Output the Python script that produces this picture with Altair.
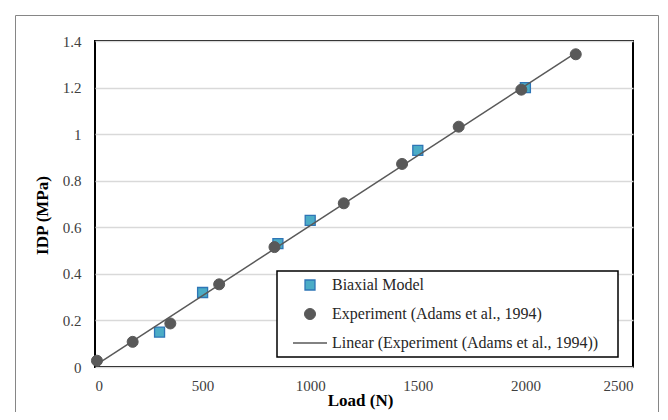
import altair as alt
import pandas as pd

S1 = "Biaxial Model"
S2 = "Experiment (Adams et al., 1994)"
S3 = "Linear (Experiment (Adams et al., 1994))"

model_load = [300, 500, 850, 1000, 1500, 2000]
model_idp = [0.15, 0.32, 0.53, 0.63, 0.93, 1.20]

exp_load = [9, 175, 350, 577, 834, 1156, 1427, 1690, 1981, 2234]
exp_idp = [0.027, 0.108, 0.187, 0.355, 0.515, 0.703, 0.872, 1.032, 1.191, 1.343]

x_ticks = [0, 500, 1000, 1500, 2000, 2500]
y_ticks = [0, 0.2, 0.4, 0.6, 0.8, 1.0, 1.2, 1.4]

SQ_FILL = "#4bacc6"
SQ_STROKE = "#2e75b6"
GRAY = "#595959"
FRAME = "#868686"
FONT = "Liberation Serif"

model_df = pd.DataFrame({"load": model_load, "idp": model_idp, "series": S1})
exp_df = pd.DataFrame({"load": exp_load, "idp": exp_idp, "series": S2})
one = pd.DataFrame({"k": [0]})

x_enc = alt.X(
    "load:Q",
    scale=alt.Scale(domain=[0, 2500], nice=False),
    axis=alt.Axis(values=x_ticks, format="d", title="Load (N)", grid=False,
                  domain=False, ticks=False, labelPadding=11,
                  titleX=265, titleY=25, titleBaseline="top", titleAlign="center"),
)
y_enc = alt.Y(
    "idp:Q",
    scale=alt.Scale(domain=[0, 1.4], nice=False),
    axis=alt.Axis(values=y_ticks, format="~g", title="IDP (MPa)", grid=True,
                  domain=False, ticks=False, labelPadding=14,
                  titleX=-53, titleY=174, titleAngle=270,
                  titleBaseline="middle", titleAlign="center"),
)

squares = alt.Chart(model_df).mark_point(
    shape="square", filled=True, fill=SQ_FILL, stroke=SQ_STROKE,
    strokeWidth=1.3, size=100, opacity=1
).encode(x=x_enc, y=y_enc)

trend = (
    alt.Chart(exp_df)
    .transform_regression("load", "idp")
    .mark_line(strokeWidth=1.5, color=GRAY)
    .encode(x="load:Q", y="idp:Q")
)

circles = alt.Chart(exp_df).mark_point(
    shape="circle", filled=True, fill=GRAY, stroke=GRAY,
    strokeWidth=1, size=121, opacity=1
).encode(x="load:Q", y="idp:Q")

# outer chart-area frame (decoration)
frame_top = alt.Chart(one).mark_rule(color=FRAME, strokeWidth=1, clip=False).encode(
    x=alt.value(-79.5), x2=alt.value(563.5), y=alt.value(-25.5)
)
frame_left = alt.Chart(one).mark_rule(color=FRAME, strokeWidth=1, clip=False).encode(
    x=alt.value(-79.5), y=alt.value(-25.5), y2=alt.value(400)
)
frame_right = alt.Chart(one).mark_rule(color=FRAME, strokeWidth=1, clip=False).encode(
    x=alt.value(563.5), y=alt.value(-25.5), y2=alt.value(400)
)

# legend (drawn as marks)
leg_box = alt.Chart(one).mark_rect(
    fill="#ffffff", stroke="#000000", strokeWidth=1.5
).encode(x=alt.value(182), x2=alt.value(523), y=alt.value(230), y2=alt.value(316))

leg_sq = alt.Chart(one).mark_point(
    shape="square", filled=True, fill=SQ_FILL, stroke=SQ_STROKE,
    strokeWidth=1.3, size=100, opacity=1
).encode(x=alt.value(215), y=alt.value(244))

leg_ci = alt.Chart(one).mark_point(
    shape="circle", filled=True, fill=GRAY, stroke=GRAY,
    strokeWidth=1, size=121, opacity=1
).encode(x=alt.value(215), y=alt.value(273))

leg_ln = alt.Chart(one).mark_rule(color=GRAY, strokeWidth=1.5).encode(
    x=alt.value(198), x2=alt.value(232), y=alt.value(302)
)

def leg_text(label, ypos):
    return alt.Chart(one).mark_text(
        align="left", baseline="middle", font=FONT, fontSize=16, color="#262626"
    ).encode(x=alt.value(237), y=alt.value(ypos), text=alt.value(label))

chart = (
    alt.layer(
        frame_top, frame_left, frame_right,
        squares, trend, circles,
        leg_box, leg_sq, leg_ci, leg_ln,
        leg_text(S1, 244), leg_text(S2, 273), leg_text(S3, 302),
    )
    .properties(
        width=538,
        height=326,
        autosize=alt.AutoSizeParams(type="none"),
        padding={"left": 87, "top": 33, "right": 27, "bottom": 45},
    )
    .configure_view(stroke="#000000", strokeWidth=2)
    .configure_axis(
        labelFont=FONT, labelFontSize=15, labelColor="#404040",
        titleFont=FONT, titleFontSize=17, titleFontWeight="bold", titleColor="#000000",
        gridColor="#d9d9d9", gridWidth=1.5,
    )
)

chart.save("out.html", embed_options={"renderer": "svg", "actions": False})
